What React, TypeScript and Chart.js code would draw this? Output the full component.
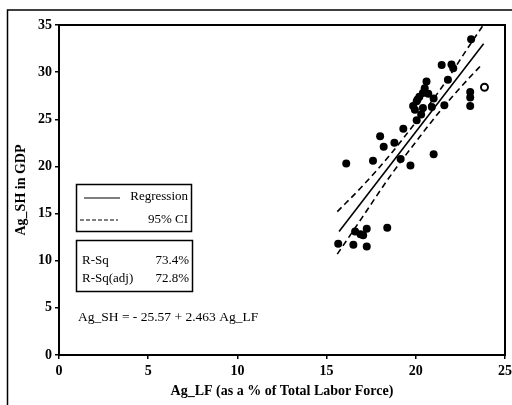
import React, { useEffect, useRef } from "react";
import { Chart, registerables } from "chart.js";

Chart.register(...registerables);

// Observed points (Ag_LF %, Ag_SH %)
const ptsX = [23.1, 21.45, 22.0, 22.1, 21.8, 23.05, 23.05, 23.05, 20.6, 20.5, 20.4, 20.2, 20.05, 19.85, 20.1, 21.0, 21.6, 20.4, 20.9, 20.05, 20.3, 19.3, 18.0, 18.2, 18.8, 21.0, 17.6, 16.1, 19.15, 19.7, 18.4, 15.65, 16.5, 17.25, 16.6, 16.9, 17.25, 17.05, 20.7, 19.95];
const ptsY = [33.5, 30.75, 30.8, 30.4, 29.2, 27.9, 27.3, 26.4, 29.0, 28.3, 27.8, 27.4, 26.9, 26.4, 27.1, 27.2, 26.5, 26.2, 26.3, 24.9, 25.5, 24.0, 23.2, 22.1, 22.5, 21.3, 20.6, 20.3, 20.8, 20.1, 13.5, 11.8, 11.7, 11.5, 13.1, 12.8, 13.4, 12.7, 27.7, 26.0];
const openX = [23.85];
const openY = [28.4];

// Regression line
const regX = [15.7, 23.8];
const regY = [13.1, 33.0];

// 95% CI band
const ciX = [15.6, 17, 18.5, 20, 21.5, 23, 23.75];
const ciUpper = [15.2, 17.9, 21.1, 24.7, 28.5, 32.8, 34.9];
const ciLower = [10.7, 14.6, 18.8, 22.6, 26.2, 29.4, 30.9];

const xTicks = [0, 5, 10, 15, 20, 25];
const yTicks = [0, 5, 10, 15, 20, 25, 30, 35];

const xTitle = "Ag_LF (as a % of Total Labor Force)";
const yTitle = "Ag_SH in GDP";
const legendLabels = ["Regression", "95% CI"];
const statLabels = ["R-Sq", "R-Sq(adj)"];
const statValues = ["73.4%", "72.8%"];
const equation = "Ag_SH = - 25.57 + 2.463 Ag_LF";

const SERIF = "'Liberation Serif', 'Times New Roman', serif";

const zip = (xs: number[], ys: number[]) => xs.map((x, i) => ({ x, y: ys[i] }));

const decorPlugin = {
  id: "decor",
  afterDraw(chart: any) {
    const ctx = chart.ctx;
    const a = chart.chartArea;
    ctx.save();
    ctx.strokeStyle = "#000";
    // plot frame
    ctx.lineWidth = 2;
    ctx.strokeRect(a.left, a.top, a.right - a.left, a.bottom - a.top);
    // outer frame
    ctx.lineWidth = 1.5;
    ctx.beginPath();
    ctx.moveTo(7.5, 405);
    ctx.lineTo(7.5, 10);
    ctx.lineTo(512, 10);
    ctx.stroke();

    // legend box 1
    ctx.lineWidth = 1.5;
    ctx.strokeRect(76.5, 184.5, 115, 47);
    ctx.lineWidth = 1.2;
    ctx.beginPath();
    ctx.moveTo(84, 198);
    ctx.lineTo(120, 198);
    ctx.stroke();
    ctx.setLineDash([4, 2]);
    ctx.beginPath();
    ctx.moveTo(80, 220);
    ctx.lineTo(118, 220);
    ctx.stroke();
    ctx.setLineDash([]);
    ctx.fillStyle = "#000";
    ctx.font = `13px ${SERIF}`;
    ctx.textBaseline = "middle";
    ctx.textAlign = "right";
    ctx.fillText(legendLabels[0], 188, 197);
    ctx.fillText(legendLabels[1], 188, 220);

    // stats box
    ctx.lineWidth = 1.5;
    ctx.strokeRect(76.5, 240.5, 116, 51);
    ctx.textAlign = "left";
    ctx.fillText(statLabels[0], 82, 261);
    ctx.fillText(statLabels[1], 82, 279);
    ctx.textAlign = "right";
    ctx.fillText(statValues[0], 189, 261);
    ctx.fillText(statValues[1], 189, 279);

    // equation
    ctx.textAlign = "left";
    ctx.font = `13.5px ${SERIF}`;
    ctx.fillText(equation, 78, 317);
    ctx.restore();
  },
};

export default function App() {
  const ref = useRef<HTMLCanvasElement | null>(null);
  useEffect(() => {
    document.body.style.margin = "0";
    const chart = new Chart(ref.current as HTMLCanvasElement, {
      type: "scatter",
      data: {
        datasets: [
          {
            type: "line",
            data: zip(regX, regY),
            borderColor: "#000",
            borderWidth: 1.6,
            pointRadius: 0,
            fill: false,
          } as any,
          {
            type: "line",
            data: zip(ciX, ciUpper),
            borderColor: "#000",
            borderWidth: 1.6,
            borderDash: [6, 4],
            pointRadius: 0,
            cubicInterpolationMode: "monotone",
            fill: false,
          } as any,
          {
            type: "line",
            data: zip(ciX, ciLower),
            borderColor: "#000",
            borderWidth: 1.6,
            borderDash: [6, 4],
            pointRadius: 0,
            cubicInterpolationMode: "monotone",
            fill: false,
          } as any,
          {
            data: zip(ptsX, ptsY),
            backgroundColor: "#000",
            borderColor: "#000",
            pointRadius: 4,
            borderWidth: 0,
          },
          {
            data: zip(openX, openY),
            backgroundColor: "#fff",
            borderColor: "#000",
            pointRadius: 3.5,
            borderWidth: 2,
          },
        ],
      },
      options: {
        animation: false,
        responsive: false,
        maintainAspectRatio: false,
        layout: { padding: { top: 25, right: 0, left: 0, bottom: 0 } },
        plugins: { legend: { display: false }, tooltip: { enabled: false } },
        scales: {
          x: {
            type: "linear",
            min: 0,
            max: 25,
            afterFit: (s: any) => {
              s.height = 50;
              s.paddingRight = 7;
              s.paddingLeft = 0;
            },
            afterBuildTicks: (s: any) => {
              s.ticks = xTicks.map((v) => ({ value: v }));
            },
            grid: { drawOnChartArea: false, drawTicks: true, tickLength: 4, color: "#000", lineWidth: 1.5 },
            border: { display: true, color: "#000", width: 2 },
            ticks: { color: "#000", padding: 4, font: { family: SERIF, size: 14, weight: "bold" } },
            title: {
              display: true,
              text: xTitle,
              color: "#000",
              font: { family: SERIF, size: 14, weight: "bold" },
              padding: { top: 0, bottom: 5 },
            },
          },
          y: {
            type: "linear",
            min: 0,
            max: 35,
            afterFit: (s: any) => {
              s.width = 59;
            },
            afterBuildTicks: (s: any) => {
              s.ticks = yTicks.map((v) => ({ value: v }));
            },
            grid: { drawOnChartArea: false, drawTicks: true, tickLength: 4, color: "#000", lineWidth: 1.5 },
            border: { display: true, color: "#000", width: 2 },
            ticks: { color: "#000", padding: 3, font: { family: SERIF, size: 14, weight: "bold" } },
            title: {
              display: true,
              text: yTitle,
              color: "#000",
              font: { family: SERIF, size: 14, weight: "bold" },
              padding: { top: 13, bottom: 0 },
            },
          },
        },
      },
      plugins: [decorPlugin],
    });
    return () => chart.destroy();
  }, []);
  return (
    <div style={{ position: "fixed", left: 0, top: 0, width: 512, height: 405, background: "#fff" }}>
      <canvas ref={ref} width={512} height={405} style={{ display: "block" }} />
    </div>
  );
}
